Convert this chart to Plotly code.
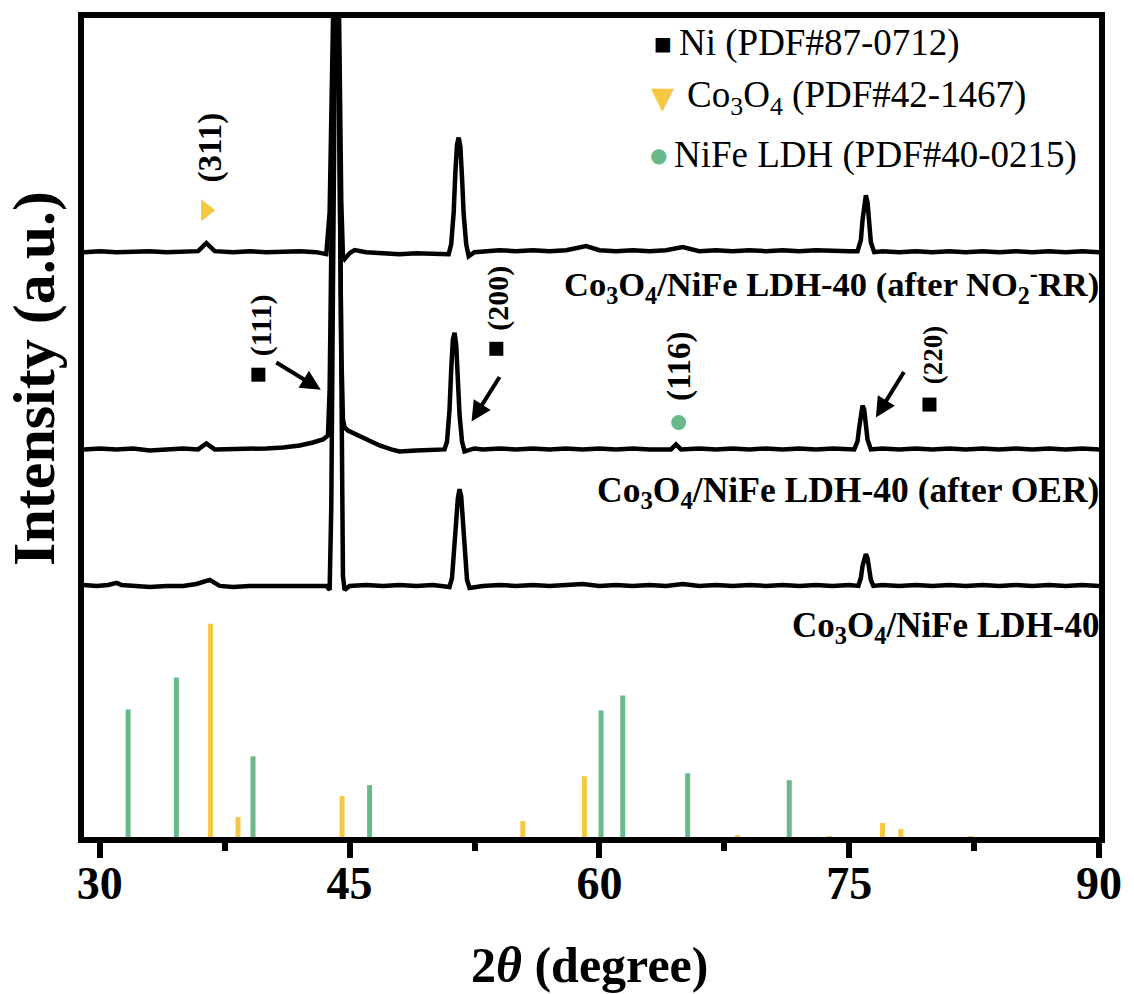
import plotly.graph_objects as go

# ---- measured XRD patterns: (2theta / degree, intensity in a.u. above the pattern's baseline) ----
pattern_pristine = [
    (29.05, 1), (29.8, 0), (30.5, 1), (31.0, 3), (31.3, 1), (32.0, 0), (33.0, -1), (34.0, 0),
    (35.0, 0), (35.8, 2), (36.6, 6), (37.2, 0), (38.0, -1), (39.0, 0), (40.0, 0), (41.0, 1),
    (42.0, 0), (43.0, 1), (43.6, 0), (43.8, -4), (43.9, 80), (44.0, 300), (44.1, 560),
    (44.2, 700), (44.3, 650), (44.4, 420), (44.5, 150), (44.6, 10), (44.7, -4), (45.0, 0),
    (46.0, 1), (47.0, 0), (48.0, 1), (49.0, 0), (50.0, 1), (51.0, -1), (51.15, 8), (51.3, 35),
    (51.4, 65), (51.5, 88), (51.6, 97), (51.7, 90), (51.8, 65), (51.9, 32), (52.05, 6),
    (52.2, -2), (53.0, 0), (54.0, 1), (55.0, 0), (56.0, 1), (57.0, 0), (58.0, 1), (59.0, 2),
    (60.0, 0), (61.0, 1), (62.0, 0), (63.0, 1), (64.0, 0), (65.0, 2), (66.0, 0), (67.0, 1),
    (68.0, 0), (69.0, 1), (70.0, 0), (71.0, 1), (72.0, 0), (73.0, 1), (74.0, 0), (75.0, 1),
    (75.55, 0), (75.7, 8), (75.8, 20), (75.9, 29), (76.0, 32), (76.1, 28), (76.2, 17),
    (76.3, 6), (76.45, 0), (77.0, 1), (78.0, 0), (79.0, 1), (80.0, 0), (81.0, 1), (82.0, 0),
    (83.0, 1), (84.0, 0), (85.0, 1), (86.0, 0), (87.0, 1), (88.0, 0), (89.0, 1), (90.0, 0),
]

pattern_oer = [
    (29.05, 0), (30.0, 1), (31.0, 0), (32.0, 1), (33.0, -1), (34.0, 0), (35.0, 1), (35.9, 0),
    (36.4, 6), (36.9, 0), (38.0, 0), (39.0, 1), (40.0, 1), (41.0, 2), (42.0, 4), (42.8, 7),
    (43.4, 10), (43.7, 14), (43.8, 60), (43.9, 200), (44.0, 400), (44.1, 530), (44.2, 560),
    (44.3, 470), (44.4, 280), (44.5, 100), (44.6, 30), (44.7, 22), (44.9, 19), (45.5, 14),
    (46.2, 9), (46.8, 4), (47.5, 0), (48.0, -2), (49.0, -1), (50.0, 0), (50.7, 0), (50.85, 8),
    (51.0, 40), (51.1, 80), (51.2, 110), (51.3, 117), (51.4, 105), (51.5, 70), (51.6, 35),
    (51.75, 8), (51.9, -2), (52.5, 1), (53.0, 0), (54.0, 1), (55.0, 0), (56.0, 1), (57.0, 0),
    (58.0, 1), (59.0, 0), (60.0, 1), (61.0, 0), (62.0, 1), (63.0, 0), (64.3, 0), (64.6, 5),
    (64.9, 0), (66.0, 1), (67.0, 0), (68.0, 1), (69.0, 0), (70.0, 1), (71.0, 0), (72.0, 1),
    (73.0, 0), (74.0, 1), (75.3, 0), (75.5, 8), (75.6, 22), (75.7, 38), (75.8, 44),
    (75.9, 40), (76.0, 26), (76.1, 10), (76.3, 0), (77.0, 1), (78.0, 0), (79.0, 1), (80.0, 0),
    (81.0, 1), (82.0, 0), (83.0, 1), (84.0, 0), (85.0, 1), (86.0, 0), (87.0, 1), (88.0, 0),
    (89.0, 1), (90.0, 0),
]

pattern_nrr = [
    (29.05, 0), (30.0, 1), (31.0, 0), (32.0, 1), (33.0, 1), (34.0, 0), (35.0, 1), (35.9, 1),
    (36.4, 9), (36.9, 1), (38.0, 0), (39.0, 1), (40.0, 0), (41.0, 1), (42.0, 1), (43.0, 0),
    (43.6, -2), (43.8, 40), (43.9, 150), (44.0, 300), (44.1, 400), (44.2, 420), (44.3, 330),
    (44.4, 180), (44.5, 50), (44.6, -4), (44.7, -7), (44.85, -4), (45.0, -1), (45.3, 2),
    (46.0, 0), (47.0, -1), (48.0, -2), (49.0, -1), (50.0, -1), (50.95, -2), (51.1, 8),
    (51.25, 40), (51.35, 80), (51.45, 108), (51.55, 115), (51.65, 106), (51.75, 75),
    (51.85, 38), (52.0, 8), (52.15, -4), (52.5, 0), (53.0, 1), (54.0, 2), (55.0, 1), (56.0, 2),
    (57.0, 1), (58.0, 2), (59.2, 6), (60.0, 2), (61.0, 1), (62.0, 2), (63.0, 1), (64.0, 2),
    (65.0, 5), (66.0, 1), (67.0, 2), (68.0, 1), (69.0, 2), (70.0, 1), (71.0, 2), (72.0, 1),
    (73.0, 2), (74.0, 1), (75.0, 1), (75.5, 1), (75.7, 12), (75.8, 32), (75.9, 50), (76.0, 57),
    (76.1, 50), (76.2, 30), (76.3, 10), (76.5, 0), (77.0, 1), (78.0, 0), (79.0, 1), (80.0, 0),
    (81.0, 1), (82.0, 0), (83.0, 1), (84.0, 0), (85.0, 1), (86.0, 0), (87.0, 1), (88.0, 0),
    (89.0, 1), (90.0, 0),
]

# vertical stacking offsets of the three patterns
offset_pristine = 252
offset_oer = 389
offset_nrr = 587

# ---- standard reference cards ----
co3o4_pos = [36.65, 38.3, 44.55, 55.4, 59.1, 68.3, 73.8, 77.0, 78.1, 82.3]
co3o4_int = [214, 20, 41, 16, 61, 2, 1, 14, 8, 1]
ldh_pos = [31.7, 34.6, 39.2, 46.2, 60.1, 61.4, 65.3, 71.4]
ldh_int = [128, 160, 81, 52, 127, 142, 64, 57]

x_ticks = [30, 45, 60, 75, 90]
x_minor = [37.5, 52.5, 67.5, 82.5]

YELLOW = "#F5C843"
GREEN = "#6AB98B"
FONT = "Liberation Serif"
SYMFONT = "DejaVu Sans"


def sticks(pos, h):
    xs, ys = [], []
    for p, v in zip(pos, h):
        xs += [p, p, None]
        ys += [0, v, None]
    return xs, ys


fig = go.Figure()

for pattern, off in [(pattern_pristine, offset_pristine),
                     (pattern_oer, offset_oer),
                     (pattern_nrr, offset_nrr)]:
    tt = [p[0] for p in pattern]
    inten = [p[1] + off for p in pattern]
    fig.add_trace(go.Scatter(x=tt, y=inten, mode="lines",
                             line=dict(color="black", width=4.5), showlegend=False,
                             hoverinfo="skip"))

for pos, h, col in [(ldh_pos, ldh_int, GREEN), (co3o4_pos, co3o4_int, YELLOW)]:
    xs, ys = sticks(pos, h)
    fig.add_trace(go.Scatter(x=xs, y=ys, mode="lines", line=dict(color=col, width=5),
                             showlegend=False, hoverinfo="skip"))

# phase markers next to reflection labels
sym_x = [36.37, 39.52, 53.81, 64.76, 79.82]
sym_y = [629, 464, 490, 416, 434]
sym_kind = ["triangle-right", "square", "square", "circle", "square"]
sym_col = [YELLOW, "black", "black", GREEN, "black"]
sym_size = [19, 14, 14, 15, 14]
fig.add_trace(go.Scatter(x=sym_x, y=sym_y, mode="markers", showlegend=False,
                         hoverinfo="skip", opacity=1,
                         marker=dict(symbol=sym_kind, color=sym_col, size=sym_size,
                                     opacity=1, line=dict(width=0))))

annotations = []
# reflection indices, rotated
hkl = [("(311)", 36.67, 692, 33), ("(111)", 39.7, 514, 30), ("(200)", 53.9, 541, 30),
       ("(116)", 64.8, 473, 33), ("(220)", 80.0, 484, 27)]
for txt, x, y, s in hkl:
    annotations.append(dict(x=x, y=y, xref="x", yref="y", text=f"<b>{txt}</b>",
                            textangle=-90, showarrow=False,
                            font=dict(family=FONT, size=s, color="black")))

# arrows pointing at reflections
for hx, hy, ax, ay in [(43.27, 449, -46, -28), (52.32, 417, 29, -46), (76.6, 421, 29, -47)]:
    annotations.append(dict(x=hx, y=hy, xref="x", yref="y", text="", showarrow=True,
                            ax=ax, ay=ay, arrowhead=2, arrowsize=1, arrowwidth=4,
                            arrowcolor="black", standoff=0))

# sample names
for txt, y, s in [("Co<sub>3</sub>O<sub>4</sub>/NiFe LDH-40 (after NO<sub>2</sub><sup>-</sup>RR)", 555, 34.5),
                  ("Co<sub>3</sub>O<sub>4</sub>/NiFe LDH-40 (after OER)", 346, 35.5),
                  ("Co<sub>3</sub>O<sub>4</sub>/NiFe LDH-40", 210, 35)]:
    annotations.append(dict(x=1.002, y=y, xref="paper", yref="y", text=f"<b>{txt}</b>",
                            xanchor="right", yanchor="middle", showarrow=False,
                            font=dict(family=FONT, size=s, color="black")))

# key of the reference phases (glyph + label)
key = [("■", "black", 19, 0.570, 0.9696, "Ni (PDF#87-0712)", 0.584),
       ("▼", YELLOW, 30, 0.570, 0.9027, "Co<sub>3</sub>O<sub>4</sub> (PDF#42-1467)", 0.592),
       ("●", GREEN, 20, 0.566, 0.8322, "NiFe LDH (PDF#40-0215)", 0.579)]
for glyph, col, gsz, gx, gy, label, tx in key:
    annotations.append(dict(x=gx, y=gy, xref="paper", yref="paper", text=glyph,
                            xanchor="center", yanchor="middle", showarrow=False,
                            font=dict(family=SYMFONT, size=gsz, color=col)))
    annotations.append(dict(x=tx, y=gy, xref="paper", yref="paper", text=label,
                            xanchor="left", yanchor="middle", showarrow=False,
                            font=dict(family=FONT, size=37, color="black")))

# axis titles
annotations.append(dict(x=0.498, y=-0.1557, xref="paper", yref="paper",
                        xanchor="center", yanchor="middle",
                        text="<b>2<i>θ</i> (degree)</b>", showarrow=False,
                        font=dict(family=FONT, size=50, color="black")))
annotations.append(dict(x=-0.050, y=0.5596, xref="paper", yref="paper",
                        xanchor="center", yanchor="middle",
                        text="<b>Intensity (a.u.)</b>", textangle=-90, showarrow=False,
                        font=dict(family=FONT, size=60, color="black")))

fig.update_layout(
    width=1134, height=994,
    margin=dict(l=84, r=28, t=15, b=157),
    paper_bgcolor="white", plot_bgcolor="white",
    annotations=annotations,
    showlegend=False,
    xaxis=dict(range=[29.05, 90], tickvals=x_ticks, ticks="outside", ticklen=15,
               tickwidth=6, tickcolor="black", showline=True, linewidth=6,
               linecolor="black", mirror=True, showgrid=False, zeroline=False,
               ticklabelstandoff=-14,
               tickfont=dict(family=FONT, size=46, color="black", weight="bold"),
               minor=dict(tickvals=x_minor, ticks="outside", ticklen=8, tickwidth=6,
                          tickcolor="black")),
    yaxis=dict(range=[0, 822], showticklabels=False, ticks="", showline=True,
               linewidth=6, linecolor="black", mirror=True, showgrid=False,
               zeroline=False),
)

fig.write_html("out.html")
